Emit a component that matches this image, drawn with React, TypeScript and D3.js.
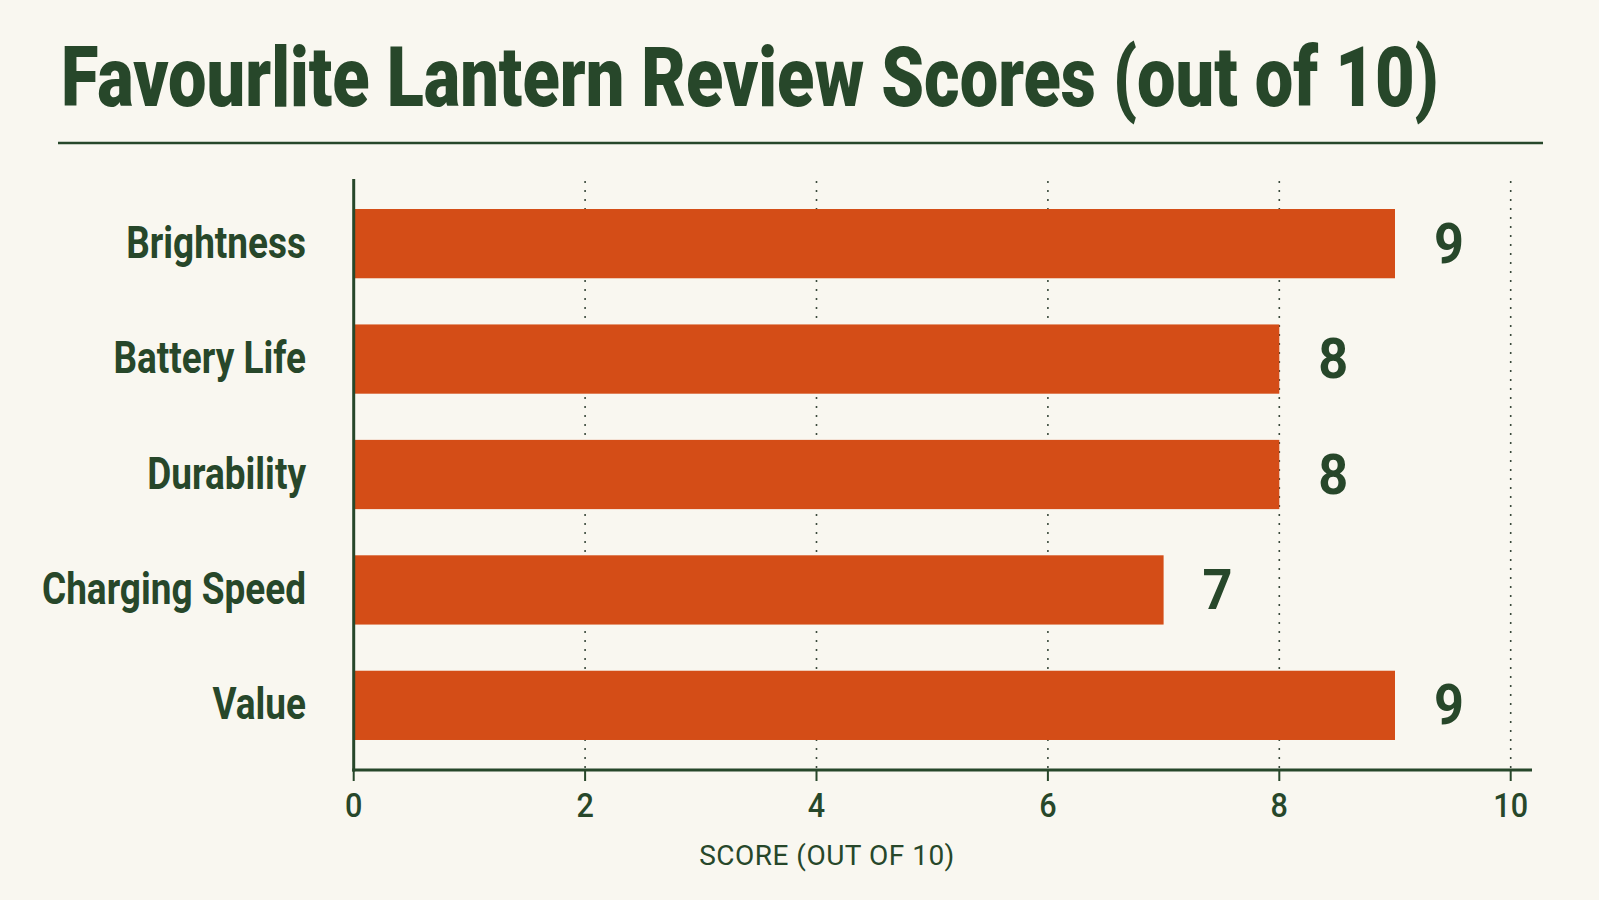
import React, { useRef, useEffect } from 'react';
import * as d3 from 'd3';

const categories = ['Brightness', 'Battery Life', 'Durability', 'Charging Speed', 'Value'];
const scores = [9, 8, 8, 7, 9];
const xTicks = [0, 2, 4, 6, 8, 10];

const WIDTH = 1599;
const HEIGHT = 900;
const GREEN = '#27472a';
const ORANGE = '#d44d17';
const BG = '#f9f7f0';

const App: React.FC = () => {
  const svgRef = useRef<SVGSVGElement>(null);

  useEffect(() => {
    document.body.style.margin = '0';
    if (!svgRef.current) return;
    const svg = d3.select(svgRef.current);
    svg.selectAll('*').remove();

    svg.append('rect').attr('width', WIDTH).attr('height', HEIGHT).attr('fill', BG);

    // Title (condensed by measuring and scaling horizontally) + rule
    const title = svg.append('text')
      .attr('x', 0)
      .attr('y', 0)
      .attr('font-family', 'Roboto, sans-serif')
      .attr('font-weight', 900)
      .attr('font-size', 84)
      .attr('fill', GREEN)
      .text('Favourlite Lantern Review Scores (out of 10)');
    const natural = (title.node() as SVGTextElement).getComputedTextLength() || 1378;
    title.attr('transform', `translate(61,106) scale(${1378 / natural},1)`);

    svg.append('line')
      .attr('x1', 58).attr('x2', 1543)
      .attr('y1', 143).attr('y2', 143)
      .attr('stroke', GREEN).attr('stroke-width', 2.5);

    const left = 353.7;
    const top = 179;
    const bottom = 770;

    const x = d3.scaleLinear().domain([0, 10]).range([left, left + 1157]);
    const y = d3.scaleBand<string>()
      .domain(categories)
      .range([top, bottom])
      .paddingInner(0.4)
      .paddingOuter(0.26);

    // dotted gridlines
    xTicks.filter(t => t > 0).forEach(t => {
      svg.append('line')
        .attr('x1', x(t)).attr('x2', x(t))
        .attr('y1', top + 2).attr('y2', bottom)
        .attr('stroke', '#3b4a3c')
        .attr('stroke-width', 1.6)
        .attr('stroke-dasharray', '2 7');
    });

    // bars
    categories.forEach((c, i) => {
      const v = scores[i];
      svg.append('rect')
        .attr('x', x(0))
        .attr('y', y(c)!)
        .attr('width', x(v) - x(0))
        .attr('height', y.bandwidth())
        .attr('fill', ORANGE);

      svg.append('text')
        .attr('transform', `translate(${x(v) + 54},${y(c)! + y.bandwidth() / 2 + 19}) scale(0.95,1)`)
        .attr('text-anchor', 'middle')
        .attr('font-family', 'Roboto, sans-serif')
        .attr('font-weight', 700)
        .attr('font-size', 55)
        .attr('fill', GREEN)
        .text(String(v));

      svg.append('text')
        .attr('transform', `translate(306,${y(c)! + y.bandwidth() / 2 + 14}) scale(0.84,1)`)
        .attr('text-anchor', 'end')
        .attr('font-family', 'Roboto, sans-serif')
        .attr('font-weight', 700)
        .attr('font-size', 44)
        .attr('fill', GREEN)
        .text(c);
    });

    // axes
    svg.append('line')
      .attr('x1', left).attr('x2', left)
      .attr('y1', top).attr('y2', bottom + 1.5)
      .attr('stroke', GREEN).attr('stroke-width', 3);

    svg.append('line')
      .attr('x1', left - 1.5).attr('x2', 1532)
      .attr('y1', bottom).attr('y2', bottom)
      .attr('stroke', GREEN).attr('stroke-width', 3);

    xTicks.forEach(t => {
      svg.append('line')
        .attr('x1', x(t)).attr('x2', x(t))
        .attr('y1', bottom).attr('y2', bottom + 11)
        .attr('stroke', GREEN).attr('stroke-width', 2);

      svg.append('text')
        .attr('transform', `translate(${x(t)},817) scale(0.9,1)`)
        .attr('text-anchor', 'middle')
        .attr('font-family', 'Roboto, sans-serif')
        .attr('font-weight', 500)
        .attr('font-size', 34)
        .attr('fill', GREEN)
        .text(String(t));
    });

    svg.append('text')
      .attr('x', 827)
      .attr('y', 865)
      .attr('text-anchor', 'middle')
      .attr('font-family', 'Roboto, sans-serif')
      .attr('font-weight', 400)
      .attr('font-size', 28)
      .attr('letter-spacing', 0.5)
      .attr('fill', GREEN)
      .text('SCORE (OUT OF 10)');
  }, []);

  return <svg ref={svgRef} width={WIDTH} height={HEIGHT} style={{ display: 'block' }} />;
};

export default App;
